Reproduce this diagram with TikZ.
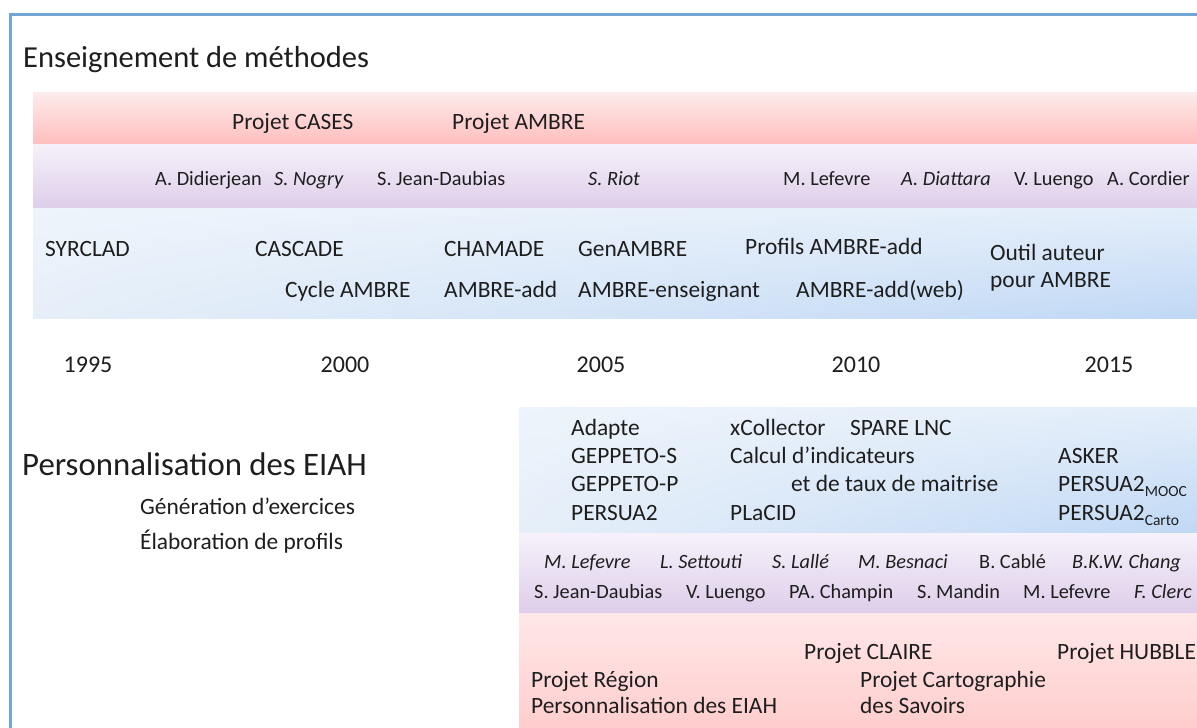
\documentclass[tikz,border=0pt]{standalone}
\usepackage{fontspec}
\setmainfont{Carlito}
\usetikzlibrary{shadings}
\definecolor{framec}{RGB}{111,166,212}
\definecolor{ink}{RGB}{30,30,30}
\definecolor{pinkT}{RGB}{253,236,236}
\definecolor{pinkB}{RGB}{255,190,190}
\definecolor{lavT}{RGB}{246,241,250}
\definecolor{lavB}{RGB}{222,206,234}
\definecolor{blueUL}{RGB}{237,244,251}
\definecolor{blueUR}{RGB}{228,238,250}
\definecolor{blueLL}{RGB}{230,239,249}
\definecolor{blueLR}{RGB}{192,216,245}
\definecolor{pinkLT}{RGB}{255,232,232}
\definecolor{pinkLB}{RGB}{255,205,205}
\begin{document}
\begin{tikzpicture}[x=1pt,y=-1pt,
  txt/.style={anchor=base west, inner sep=0pt, text=ink, font=\fontsize{23.4}{27}\selectfont},
  head/.style={txt, font=\fontsize{30.5}{34}\selectfont},
  headb/.style={txt, font=\fontsize{32.8}{36}\selectfont},
  auth/.style={txt, font=\fontsize{20.3}{24}\selectfont},
  autit/.style={txt, font=\fontsize{20.3}{24}\selectfont\itshape},
  yr/.style={anchor=base, inner sep=0pt, text=ink, font=\fontsize{24}{28}\selectfont},
  pinkband/.style={top color=pinkT, bottom color=pinkB},
  lavband/.style={top color=lavT, bottom color=lavB},
  blueband/.style={upper left=blueUL, upper right=blueUR, lower left=blueLL, lower right=blueLR}]
\useasboundingbox[fill=white] (0,0) rectangle (1197,728);
% frame
\draw[framec, line width=3pt] (10,730) -- (10,14) -- (1199,14);
% upper bands
\shade[pinkband] (33,92) rectangle (1197,144);
\shade[lavband] (33,144) rectangle (1197,208);
\shade[blueband] (33,208) rectangle (1197,318);
% lower bands
\shade[blueband] (519,407) rectangle (1197,533);
\shade[lavband] (519,533) rectangle (1197,613);
\shade[top color=pinkLT, bottom color=pinkLB] (519,613) rectangle (1197,728);

% upper texts
\node[head] (h1) at (23,67) {Enseignement de méthodes};
\node[txt] (pcases) at (232,129) {Projet CASES};
\node[txt] (pambre) at (452,129) {Projet AMBRE};

\node[auth] (a1) at (155,185) {A. Didierjean};
\node[autit] (a2) at (274,185) {S. Nogry};
\node[auth] (a3) at (377,185) {S. Jean-Daubias};
\node[autit] (a4) at (588,185) {S. Riot};
\node[auth] (a5) at (783,185) {M. Lefevre};
\node[autit] (a6) at (901,185) {A. Diattara};
\node[auth] (a7) at (1014,185) {V. Luengo};
\node[auth] (a8) at (1107,185) {A. Cordier};

\node[txt] (t1) at (45,256) {SYRCLAD};
\node[txt] (t2) at (255,256) {CASCADE};
\node[txt] (t3) at (444,256) {CHAMADE};
\node[txt] (t4) at (578,256) {GenAMBRE};
\node[txt] (t5) at (745,254) {Profils AMBRE-add};
\node[txt] (t6a) at (990,260) {Outil auteur};
\node[txt] (t6b) at (990,287) {pour AMBRE};
\node[txt] (t7) at (285,297) {Cycle AMBRE};
\node[txt] (t8) at (444,297) {AMBRE-add};
\node[txt] (t9) at (578,297) {AMBRE-enseignant};
\node[txt] (t10) at (796,297) {AMBRE-add(web)};

\node[yr] (y1) at (88,372) {1995};
\node[yr] (y2) at (345,372) {2000};
\node[yr] (y3) at (601,372) {2005};
\node[yr] (y4) at (856,372) {2010};
\node[yr] (y5) at (1109,372) {2015};

% lower texts
\node[headb] (h2) at (22,475) {Personnalisation des EIAH};
\node[txt] (g1) at (140,514) {Génération d’exercices};
\node[txt] (g2) at (140,549) {Élaboration de profils};

\node[txt] (b1) at (571,435) {Adapte};
\node[txt] (b2) at (571,463) {GEPPETO-S};
\node[txt] (b3) at (571,491) {GEPPETO-P};
\node[txt] (b4) at (571,520) {PERSUA2};
\node[txt] (b5) at (730,435) {xCollector};
\node[txt] (b6) at (730,463) {Calcul d’indicateurs};
\node[txt] (b7) at (791,491) {et de taux de maitrise};
\node[txt] (b8) at (730,520) {PLaCID};
\node[txt] (b9) at (850,435) {SPARE LNC};
\node[txt] (b10) at (1058,463) {ASKER};
\node[txt] (b11) at (1058,491) {PERSUA2\raisebox{-5pt}{\fontsize{15.5}{16}\selectfont MOOC}};
\node[txt] (b12) at (1058,520) {PERSUA2\raisebox{-5pt}{\fontsize{15.5}{16}\selectfont Carto}};

\node[autit] (c1) at (544,568) {M. Lefevre};
\node[autit] (c2) at (660,568) {L. Settouti};
\node[autit] (c3) at (772,568) {S. Lallé};
\node[autit] (c4) at (858,568) {M. Besnaci};
\node[auth] (c5) at (979,568) {B. Cablé};
\node[autit] (c6) at (1072,568) {B.K.W. Chang};
\node[auth] (d1) at (534,598) {S. Jean-Daubias};
\node[auth] (d2) at (686,598) {V. Luengo};
\node[auth] (d3) at (789,598) {PA. Champin};
\node[auth] (d4) at (917,598) {S. Mandin};
\node[auth] (d5) at (1023,598) {M. Lefevre};
\node[autit] (d6) at (1134,598) {F. Clerc};

\node[txt] (p1) at (804,659) {Projet CLAIRE};
\node[txt] (p2) at (1057,659) {Projet HUBBLE};
\node[txt] (p3) at (531,687) {Projet Région};
\node[txt] (p4) at (531,713) {Personnalisation des EIAH};
\node[txt] (p5) at (860,687) {Projet Cartographie};
\node[txt] (p6) at (860,713) {des Savoirs};
\end{tikzpicture}
\end{document}
